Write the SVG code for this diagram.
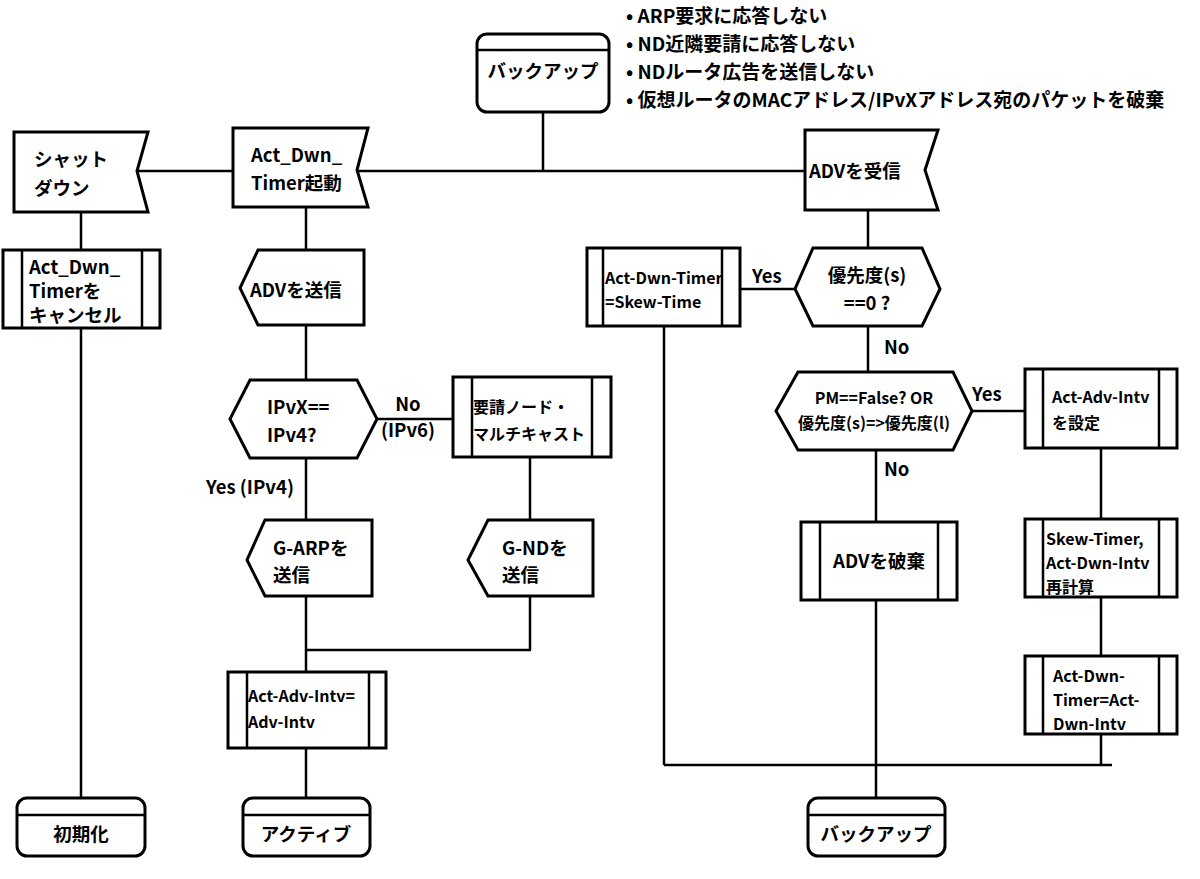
<svg xmlns="http://www.w3.org/2000/svg" width="1200" height="879" viewBox="0 0 1200 879">
<style>
.s{fill:#fff;stroke:#000;stroke-width:3}
.c{fill:none;stroke:#000;stroke-width:2.5}
text{font-family:"Noto Sans CJK JP","Liberation Sans",sans-serif;font-weight:bold;font-size:18.5px;fill:#000}
.m{text-anchor:middle}
.sm{font-size:16px}
.b{font-size:19px}
</style>
<rect width="1200" height="879" fill="#fff"/>
<g id="connectors">
<path class="c" d="M543 112V171M138 171H233M357 171H808M81 212V250M81 328V798M306 207V250M306 325V380M377 419H453M530 457V520M530 596V650M306 458V520M306 596V672M306 650H531M306 748V798M868 210V248M795 289H740M664 326V765M868 326V372M972 411H1025M1101 448V519M1101 597V656M1101 734V765M664 765H1112M876 450V522M876 600V798"/>
</g>
<g id="label-texts">
<text x="752" y="283">Yes</text>
<text x="884" y="354">No</text>
<text x="972" y="401">Yes</text>
<text x="884" y="476">No</text>
<text x="408" y="411" class="m">No</text>
<text x="408" y="437" class="m">(IPv6)</text>
<text x="250" y="494" class="m">Yes (IPv4)</text>
<text x="626" y="23" class="b">• ARP要求に応答しない</text>
<text x="626" y="51" class="b">• ND近隣要請に応答しない</text>
<text x="626" y="79" class="b">• NDルータ広告を送信しない</text>
<text x="626" y="107" class="b">• 仮想ルータのMACアドレス/IPvXアドレス宛のパケットを破棄</text>
</g>
<g id="backup-top"><rect class="s" x="477" y="34" width="132" height="78" rx="10"/><path class="c" d="M477 50H609"/><text x="543" y="78" class="m">バックアップ</text></g>
<g id="shutdown"><path class="s" d="M14 132H148L137 171L148 212H14Z"/><text x="34" y="166">シャット</text><text x="34" y="195">ダウン</text></g>
<g id="timer-start"><path class="s" d="M233 128H368L357 170L368 207H233Z"/><text x="251" y="162">Act_Dwn_</text><text x="251" y="190">Timer起動</text></g>
<g id="adv-recv"><path class="s" d="M805 130H938L925 170L938 210H805Z"/><text x="809" y="178">ADVを受信</text></g>
<g id="cancel"><rect class="s" x="3" y="250" width="157" height="78"/><path class="c" d="M22 250V328M142 250V328"/><text x="29" y="274">Act_Dwn_</text><text x="29" y="298">Timerを</text><text x="29" y="322">キャンセル</text></g>
<g id="init"><rect class="s" x="17" y="798" width="128" height="58" rx="10"/><path class="c" d="M17 815H145"/><text x="81" y="841" class="m">初期化</text></g>
<g id="adv-send"><path class="s" d="M258 250H364V325H258L240 288Z"/><text x="250" y="297">ADVを送信</text></g>
<g id="ipvx"><path class="s" d="M250 380H357L377 419L357 458H250L230 419Z"/><text x="267" y="414">IPvX==</text><text x="267" y="442">IPv4?</text></g>
<g id="solicit"><rect class="s" x="453" y="377" width="158" height="80"/><path class="c" d="M472 377V457M592 377V457"/><text x="473" y="413" class="sm">要請ノード・</text><text x="473" y="440" class="sm">マルチキャスト</text></g>
<g id="garp"><path class="s" d="M265 520H372V596H265L247 560Z"/><text x="273" y="555">G-ARPを</text><text x="273" y="582">送信</text></g>
<g id="gnd"><path class="s" d="M488 520H593V596H488L468 560Z"/><text x="502" y="555">G-NDを</text><text x="502" y="582">送信</text></g>
<g id="act-adv"><rect class="s" x="228" y="672" width="158" height="76"/><path class="c" d="M247 672V748M369 672V748"/><text x="248" y="702" class="sm">Act-Adv-Intv=</text><text x="248" y="728" class="sm">Adv-Intv</text></g>
<g id="active"><rect class="s" x="243" y="798" width="127" height="58" rx="10"/><path class="c" d="M243 815H370"/><text x="306" y="841" class="m">アクティブ</text></g>
<g id="skew-time"><rect class="s" x="587" y="248" width="153" height="78"/><path class="c" d="M603 248V326M722 248V326"/><text x="605" y="284" class="sm">Act-Dwn-Timer</text><text x="605" y="308" class="sm">=Skew-Time</text></g>
<g id="prio"><path class="s" d="M813 248H922L940 289L922 326H813L795 289Z"/><text x="867" y="282" class="m">優先度(s)</text><text x="867" y="310" class="m">==0 ?</text></g>
<g id="pm"><path class="s" d="M798 372H953L972 411L953 450H798L776 411Z"/><text x="874" y="404" class="m sm">PM==False? OR</text><text x="874" y="429" class="m sm">優先度(s)=>優先度(l)</text></g>
<g id="set-adv"><rect class="s" x="1025" y="369" width="152" height="79"/><path class="c" d="M1043 369V448M1159 369V448"/><text x="1052" y="403" class="sm">Act-Adv-Intv</text><text x="1052" y="429" class="sm">を設定</text></g>
<g id="discard"><rect class="s" x="801" y="522" width="156" height="78"/><path class="c" d="M820 522V600M938 522V600"/><text x="879" y="568" class="m">ADVを破棄</text></g>
<g id="recalc"><rect class="s" x="1025" y="519" width="152" height="78"/><path class="c" d="M1043 519V597M1159 519V597"/><text x="1046" y="545" class="sm">Skew-Timer,</text><text x="1046" y="569" class="sm">Act-Dwn-Intv</text><text x="1046" y="593" class="sm">再計算</text></g>
<g id="set-dwn"><rect class="s" x="1025" y="656" width="152" height="78"/><path class="c" d="M1043 656V734M1159 656V734"/><text x="1053" y="682" class="sm">Act-Dwn-</text><text x="1053" y="706" class="sm">Timer=Act-</text><text x="1053" y="730" class="sm">Dwn-Intv</text></g>
<g id="backup-bottom"><rect class="s" x="808" y="798" width="137" height="58" rx="10"/><path class="c" d="M808 815H945"/><text x="876" y="841" class="m">バックアップ</text></g>
</svg>
